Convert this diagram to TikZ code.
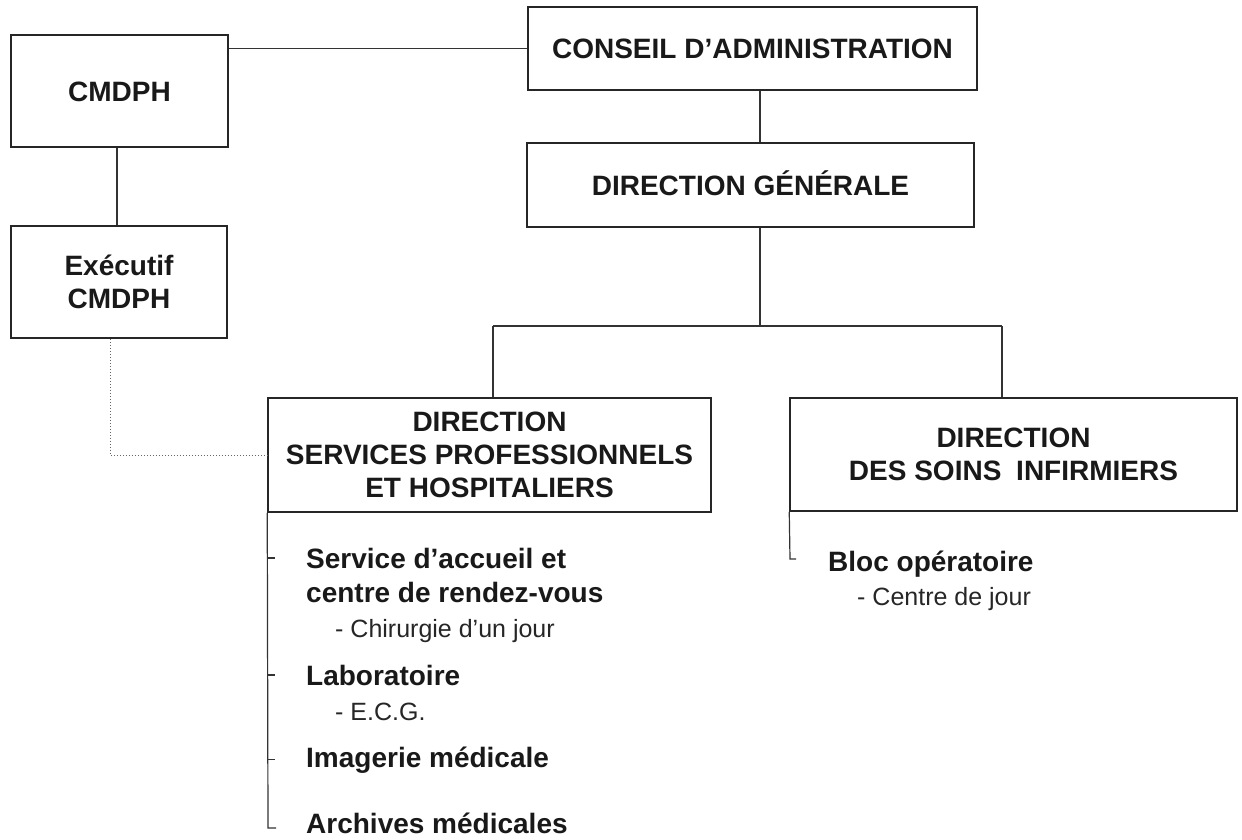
\documentclass[tikz,border=0pt]{standalone}
\usepackage{fontspec}
\setmainfont{Liberation Sans}
\begin{document}
\begin{tikzpicture}[x=1pt,y=-1pt,
  ink/.style={draw=black!85,line width=1.5pt},
  box/.style={ink,rectangle,inner sep=0pt,align=center,text=black!90,
    font=\fontsize{28}{33}\selectfont\bfseries},
  oneline/.style={text height=20pt,text depth=0pt},
  link/.style={draw=black!80,line width=1.2pt},
  linkdot/.style={draw=black!60,line width=0.9pt,dash pattern=on 1pt off 2pt},
  unit/.style={anchor=base west,inner sep=0pt,text=black!90,
    font=\fontsize{28}{33}\selectfont\bfseries},
  subunit/.style={anchor=base west,inner sep=0pt,text=black!85,
    font=\fontsize{25}{30}\selectfont}]
  \useasboundingbox[fill=white] (0,0) rectangle (1242,839);

  % boxes
  \node[box,oneline,minimum width=217pt,minimum height=112pt] (cmdph) at (119.5,91) {CMDPH};
  \node[box,minimum width=216pt,minimum height=112pt] (exec) at (119,282) {Exécutif\\CMDPH};
  \node[box,oneline,minimum width=449pt,minimum height=83pt] (conseil) at (752.5,48.5) {CONSEIL D’ADMINISTRATION};
  \node[box,oneline,minimum width=447pt,minimum height=84pt] (dg) at (750.5,185) {DIRECTION GÉNÉRALE};
  \node[box,minimum width=443pt,minimum height=114pt] (sph) at (489.5,455) {DIRECTION\\SERVICES PROFESSIONNELS\\ET HOSPITALIERS};
  \node[box,minimum width=447pt,minimum height=113pt] (dsi) at (1013.5,454.5) {DIRECTION\\DES SOINS\hspace{7pt} INFIRMIERS};

  % services under the professional services direction
  \node[unit] (accueil) at (306,568) {Service d’accueil et};
  \node[unit] (rdv) at (306,602) {centre de rendez-vous};
  \node[subunit] (chir) at (335,637) {- Chirurgie d’un jour};
  \node[unit] (labo) at (306,685) {Laboratoire};
  \node[subunit] (ecg) at (335,720) {- E.C.G.};
  \node[unit] (imag) at (306,767) {Imagerie médicale};
  \node[unit] (arch) at (306,833) {Archives médicales};

  % services under the nursing direction
  \node[unit] (bloc) at (828,571) {Bloc opératoire};
  \node[subunit] (cjour) at (857,605) {- Centre de jour};

  % routing points of the tree
  \coordinate (trunk) at (760,0);
  \coordinate (lbranch) at (493,326);
  \coordinate (rbranch) at (1002,326);
  \coordinate (dotx) at (110,0);
  \coordinate (dsiend) at (790,559);
  \coordinate (archend) at (268,828);

  % hierarchy links
  \draw[link] (conseil.west -| cmdph.east) -- (conseil.west);
  \draw[link] (cmdph.south -| 117,0) -- (exec.north -| 117,0);
  \draw[link] (conseil.south -| trunk) -- (dg.north -| trunk);
  \draw[link] (dg.south -| trunk) -- (trunk |- lbranch);
  \draw[link] (lbranch) -- (rbranch);
  \draw[link] (lbranch) -- (lbranch |- sph.north);
  \draw[link] (rbranch) -- (rbranch |- dsi.north);
  \draw[linkdot] (exec.south -| dotx) |- (sph.west);

  % service brackets
  \draw[link] (sph.south west) -- (archend) -- ++(8,0);
  \draw[link] (sph.south west |- accueil.west) -- ++(8,0);
  \draw[link] (sph.south west |- labo.west) -- ++(8,0);
  \draw[link] (sph.south west |- imag.west) -- ++(8,0);
  \draw[link] (dsi.south west) -- (dsiend) -- ++(6,0);
\end{tikzpicture}
\end{document}
